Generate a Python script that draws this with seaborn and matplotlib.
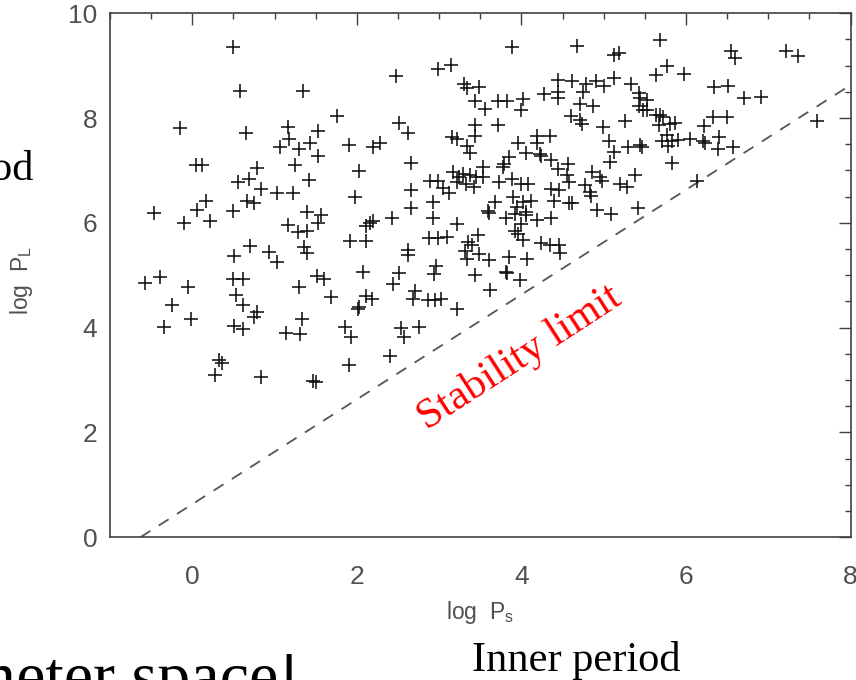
import numpy as np
import pandas as pd
import matplotlib
matplotlib.use("Agg")
import matplotlib.pyplot as plt
import seaborn as sns
from matplotlib.ticker import MultipleLocator

# ---- data (log P_s, log P_L) ----
log_ps = [
    0.49, 0.58, 1.35, 1.76, -0.15, 0.65, 1.16, 1.18, 1.53, 1.43, 1.06, 1.30, 1.53, 1.90,
    0.05, 0.12, 0.79, 1.25, 2.03, 0.56, 0.69, 0.83, 1.03, 1.22, 1.42, 1.98, 0.17, 0.06,
    0.66, 0.75, 0.49, -0.47, 1.40, 1.56, -0.10, 0.22, 1.16, 1.28, 1.39, 1.53, 1.92, 0.70,
    0.51, 0.93, 1.03, 1.36, 1.39, -0.57, -0.39, -0.05, 0.49, 0.62, 1.30, 1.51, 1.60, 1.68,
    0.53, 0.62, -0.25, 0.79, 0.75, -0.02, 1.33, -0.34, 0.51, 0.62, 1.14, 1.31, 1.86, 1.93,
    0.33, 0.36, 0.27, 0.84, 1.47, 1.50, 1.90,
    3.89, 4.67, 2.98, 3.14, 2.47, 3.30, 3.34, 3.48, 3.44, 3.56, 3.71, 3.82, 4.02, 4.00,
    4.45, 4.62, 4.27, 4.45, 4.44, 4.78, 4.91, 4.75, 4.71, 4.87, 4.60, 4.71, 4.73, 2.51,
    2.62, 3.44, 3.44, 3.72, 3.16, 3.22, 3.34, 3.38, 2.20, 2.28, 3.96, 4.19, 4.35, 4.19,
    4.06, 4.22, 4.24, 4.36, 4.44, 4.56, 3.85, 3.79, 3.78, 3.53, 2.66,
    2.89, 2.98, 3.05, 3.12, 3.17, 3.24, 3.29, 3.38, 3.45, 3.53, 3.42, 3.33, 3.22, 3.73,
    3.89, 4.00, 4.08, 4.36, 4.46, 4.58, 4.55, 4.86, 4.77, 4.83, 4.95, 2.66, 2.93, 2.66,
    3.68, 3.59, 3.90, 3.94, 4.02, 4.12, 4.06, 4.40, 4.58, 4.62, 4.85, 4.92,
    2.16, 2.11, 2.20, 2.43, 2.11, 2.93, 3.22, 2.88, 2.98, 3.10, 2.62, 2.62, 3.47, 3.35,
    3.40, 3.31, 3.34, 3.49, 3.61, 3.60, 3.81, 3.92, 4.05, 4.19, 4.36, 4.00, 3.92, 4.02,
    3.96, 4.24, 4.35, 4.46, 4.47, 3.85, 4.07, 2.07, 2.51, 2.44, 2.96, 2.94, 3.44, 3.81,
    3.83, 3.98, 3.62, 2.11, 2.18, 2.01, 2.03, 2.71, 2.68, 2.87, 2.95, 3.02, 3.22, 2.54,
    2.75, 2.57, 2.40,
    5.68, 5.12, 5.18, 6.55, 6.60, 7.21, 7.36, 5.77, 5.63, 5.98, 6.34, 6.51, 6.70, 6.91,
    5.00, 5.13, 5.33, 5.43, 5.44, 5.52, 5.43, 5.48, 5.53, 5.64, 5.68, 5.72, 5.67, 5.81,
    5.86, 5.26, 4.99, 6.33, 6.50, 6.22, 7.59, 5.06, 5.13, 5.08, 5.29, 5.44, 5.46, 5.71,
    5.77, 5.83, 5.78, 5.90, 6.05, 6.21, 6.23, 6.40, 6.39, 6.57, 5.83, 4.98, 5.38, 5.20,
    5.28, 6.13, 5.09, 5.42,
]
log_pl = [
    9.35, 8.52, 8.52, 8.04, 7.80, 7.72, 7.83, 7.60, 7.75, 7.52, 7.45, 7.41, 7.28, 7.48,
    7.10, 7.10, 7.04, 7.11, 6.98, 6.78, 6.83, 6.65, 6.56, 6.56, 6.82, 6.50, 6.42, 6.24,
    6.42, 6.37, 6.23, 6.19, 6.21, 6.15, 6.00, 6.03, 5.95, 5.82, 5.85, 6.00, 5.66, 5.56,
    5.37, 5.44, 5.25, 5.54, 5.43, 4.86, 4.97, 4.77, 4.92, 4.92, 4.78, 4.98, 4.92, 4.58,
    4.63, 4.44, 4.44, 4.30, 4.21, 4.16, 4.17, 4.02, 4.03, 3.98, 3.89, 3.88, 4.02, 3.83,
    3.38, 3.33, 3.09, 3.06, 2.98, 2.96, 3.29,
    9.36, 9.37, 8.94, 9.01, 8.80, 8.65, 8.57, 8.59, 8.33, 8.18, 8.33, 8.33, 8.36, 8.15,
    8.73, 8.71, 8.46, 8.50, 8.38, 8.65, 8.71, 8.50, 8.27, 8.23, 8.04, 7.96, 7.89, 7.91,
    7.71, 7.86, 7.66, 7.87, 7.64, 7.59, 7.47, 7.34, 7.45, 7.53, 7.53, 7.66, 7.66, 7.53,
    7.34, 7.31, 7.27, 7.19, 7.03, 7.12, 7.26, 7.12, 7.06, 7.07, 7.14,
    6.80, 6.80, 6.66, 6.57, 6.96, 6.88, 6.94, 6.92, 6.87, 6.87, 6.68, 6.75, 6.77, 6.77,
    6.83, 6.75, 6.75, 6.65, 6.63, 6.78, 6.92, 6.96, 6.72, 6.59, 6.88, 6.63, 6.40, 6.28,
    6.40, 6.22, 6.49, 6.31, 6.40, 6.42, 6.21, 6.42, 6.37, 6.38, 6.52, 6.24,
    5.99, 5.94, 6.04, 6.09, 5.66, 6.10, 5.98, 5.71, 5.71, 5.72, 5.49, 5.38, 5.77, 5.63,
    5.57, 5.47, 5.31, 5.40, 5.29, 6.19, 6.10, 6.17, 6.15, 6.05, 6.09, 5.98, 5.85, 5.67,
    5.79, 5.61, 5.58, 5.58, 5.42, 5.35, 5.30, 5.06, 5.04, 4.83, 5.18, 5.02, 5.00, 5.07,
    5.04, 4.91, 4.72, 4.60, 4.55, 4.35, 4.39, 4.69, 4.55, 4.53, 4.53, 4.54, 4.36, 3.99,
    4.02, 3.83, 3.46,
    9.48, 9.21, 9.25, 9.28, 9.15, 9.27, 9.18, 8.99, 8.83, 8.84, 8.59, 8.61, 8.38, 8.40,
    8.62, 8.76, 8.64, 8.48, 8.39, 8.34, 8.22, 8.15, 8.15, 8.06, 8.05, 8.02, 7.87, 7.89,
    7.90, 7.94, 7.83, 8.02, 8.02, 7.85, 7.95, 7.57, 7.36, 7.16, 7.45, 7.48, 7.45, 7.57,
    7.68, 7.57, 7.47, 7.58, 7.59, 7.56, 7.52, 7.64, 7.41, 7.45, 7.14, 6.80, 6.92, 6.74,
    6.69, 6.80, 6.17, 6.28,
]

# stability limit (dashed line)
limit_x = [-0.63, 8.0]
limit_y = [0.0, 8.63]

x_ticks = [0, 2, 4, 6, 8]
y_ticks = [0, 2, 4, 6, 8, 10]

df = pd.DataFrame({"log_ps": log_ps, "log_pl": log_pl})
df_lim = pd.DataFrame({"x": limit_x, "y": limit_y})

sns.set_style("white")
plt.rcParams["font.family"] = ["Liberation Sans", "DejaVu Sans"]

fig = plt.figure(figsize=(8.56, 6.8), dpi=100)
ax = fig.add_axes([110 / 856, 1 - 537.2 / 680, 740.6 / 856, 524 / 680])

sns.scatterplot(data=df, x="log_ps", y="log_pl", marker="+", s=95,
                color="#111111", linewidth=1.15, ax=ax, zorder=3)
sns.lineplot(data=df_lim, x="x", y="y", color="#555555", linewidth=1.3,
             dashes=False, ax=ax, zorder=2)
ax.lines[-1].set_dashes((6.5, 5.5))

ax.set_xlim(-1, 8)
ax.set_ylim(0, 10)
ax.set_xticks(x_ticks)
ax.set_yticks(y_ticks)
ax.xaxis.set_minor_locator(MultipleLocator(0.5))
ax.yaxis.set_minor_locator(MultipleLocator(0.5))

axis_col = "#404040"
for sp in ax.spines.values():
    sp.set_color(axis_col)
    sp.set_linewidth(1.2)
ax.tick_params(which="both", direction="in", top=True, right=True,
               color=axis_col, width=1.0)
ax.tick_params(which="major", length=8.5)
ax.tick_params(which="minor", length=4.2)
ax.tick_params(axis="x", which="major", pad=20, labelsize=19, labelcolor="#505050")
ax.tick_params(axis="y", which="major", pad=9, labelsize=19, labelcolor="#505050")

ax.set_xlabel("log  P$_\\mathregular{s}$", fontsize=16.5, color="#505050")
ax.set_ylabel("log  P$_\\mathregular{L}$", fontsize=16.5, color="#505050")
ax.xaxis.set_label_coords(0.5, (537.2 - 599) / 524)
ax.yaxis.set_label_coords((35 - 110) / 740.6, 0.49)

ax.text(4.05, 3.25, "Stability limit", color="red", fontsize=30.5,
        family=["Liberation Serif", "DejaVu Serif"], rotation=33,
        rotation_mode="anchor", ha="center", va="baseline", zorder=4)

serif = ["Liberation Serif", "DejaVu Serif"]
fig.text(576 / 856, 1 - 670.7 / 680, "Inner period", fontsize=30.5,
         family=serif, ha="center", va="baseline", color="black")
fig.text(33 / 856, 1 - 180 / 680, "Outer period", fontsize=30.5,
         family=serif, ha="right", va="baseline", color="black")
fig.text(300 / 856, 1 - 697 / 680, "parameter space!", fontsize=47.5,
         family=serif, ha="right", va="baseline", color="black")

fig.savefig("out.png", dpi=100)
